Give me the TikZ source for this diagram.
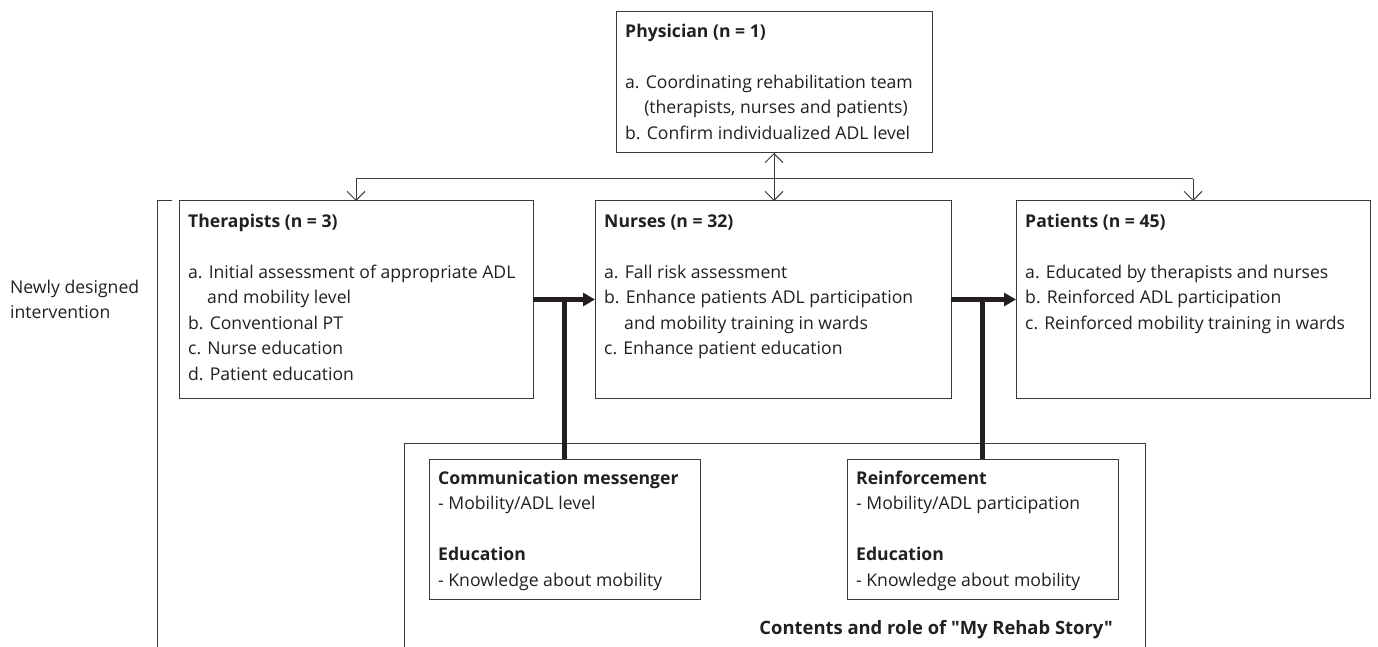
\documentclass[tikz,border=0pt]{standalone}
\usepackage{fontspec}
\setmainfont{Open Sans}
\newfontfamily\capfont{Open Sans}
\usetikzlibrary{arrows.meta}
\definecolor{ink}{HTML}{231F20}
\definecolor{edge}{HTML}{3A3A3A}
\newcommand\firststrut{\rule{0pt}{16pt}}
\begin{document}
\begin{tikzpicture}[x=1pt,y=-1pt,
  box/.style={draw=edge, line width=1pt, inner sep=0pt, outer sep=0pt, anchor=north west},
  txt/.style={anchor=north west, inner sep=0pt, align=left, text=ink, font=\fontsize{17.6}{25.5}\selectfont},
  thin/.style={draw=edge, line width=1pt},
  openarrow/.style={thin, -{Straight Barb[length=9pt,width=18pt]}},
  dblarrow/.style={thin, {Straight Barb[length=9pt,width=18pt]}-{Straight Barb[length=9pt,width=18pt]}},
  heavy/.style={draw=ink, line width=5.5pt},
  heavyarrow/.style={heavy, -{Triangle[length=12pt,width=13pt]}}]
\useasboundingbox (0,0) rectangle (1378,647);
% boxes
\node[box, minimum width=316pt, minimum height=141pt] (phys) at (616,12) {};
\node[box, minimum width=354pt, minimum height=197pt] (ther) at (179,201) {};
\node[box, minimum width=356pt, minimum height=197pt] (nurse) at (595,201) {};
\node[box, minimum width=354pt, minimum height=197pt] (pat) at (1016,201) {};
\node[box, minimum width=271pt, minimum height=140pt] (comm) at (429,459) {};
\node[box, minimum width=271pt, minimum height=140pt] (reinf) at (847,459) {};
% texts
\node[txt] (physT) at (625,21) {\firststrut\textbf{Physician (n = 1)}\\[25.5pt]
a. Coordinating rehabilitation team\\
\phantom{a.\ }(therapists, nurses and patients)\\
b. Confirm individualized ADL level};
\node[txt] (therT) at (188,211) {\firststrut\textbf{Therapists (n = 3)}\\[25.5pt]
a. Initial assessment of appropriate ADL\\
\phantom{a.\ }and mobility level\\
b. Conventional PT\\
c. Nurse education\\
d. Patient education};
\node[txt] (nurseT) at (604,211) {\firststrut\textbf{Nurses (n = 32)}\\[25.5pt]
a. Fall risk assessment\\
b. Enhance patients ADL participation\\
\phantom{b.\ }and mobility training in wards\\
c. Enhance patient education};
\node[txt] (patT) at (1025,211) {\firststrut\textbf{Patients (n = 45)}\\[25.5pt]
a. Educated by therapists and nurses\\
b. Reinforced ADL participation\\
c. Reinforced mobility training in wards};
\node[txt] (commT) at (438,468) {\firststrut\textbf{Communication messenger}\\
- Mobility/ADL level\\[25.5pt]
\textbf{Education}\\
- Knowledge about mobility};
\node[txt] (reinfT) at (856,468) {\firststrut\textbf{Reinforcement}\\
- Mobility/ADL participation\\[25.5pt]
\textbf{Education}\\
- Knowledge about mobility};
\node[txt, anchor=base east, font=\capfont\bfseries\fontsize{18.4}{25.5}\selectfont] (caption) at (1113,634) {Contents and role of "My Rehab Story"};
\node[txt] (newly) at (10,277) {\firststrut Newly designed\\intervention};
% bracket and content frame
\coordinate (brTop) at (157,201);
\coordinate (brTick) at (172,201);
\coordinate (brBot) at (157,647);
\draw[thin] (brTick) -- (brTop) -- (brBot);
\coordinate (cfBL) at (404,647);
\coordinate (cfTL) at (404,443);
\coordinate (cfTR) at (1145,443);
\coordinate (cfBR) at (1145,647);
\draw[thin] (cfBL) -- (cfTL) -- (cfTR) -- (cfBR);
% distribution line
\coordinate (hl) at (0,179);
\draw[thin] (ther.north |- hl) -- (pat.north |- hl);
\draw[openarrow] (ther.north |- hl) -- (ther.north);
\draw[openarrow] (pat.north |- hl) -- (pat.north);
\draw[dblarrow] (phys.south) -- (phys.south |- nurse.north);
% heavy connectors
\draw[heavy] (comm.north) -- (comm.north |- ther.east);
\draw[heavy] (reinf.north) -- (reinf.north |- nurse.east);
\draw[heavyarrow] (ther.east) -- (nurse.west);
\draw[heavyarrow] (nurse.east) -- (pat.west);
\end{tikzpicture}
\end{document}
